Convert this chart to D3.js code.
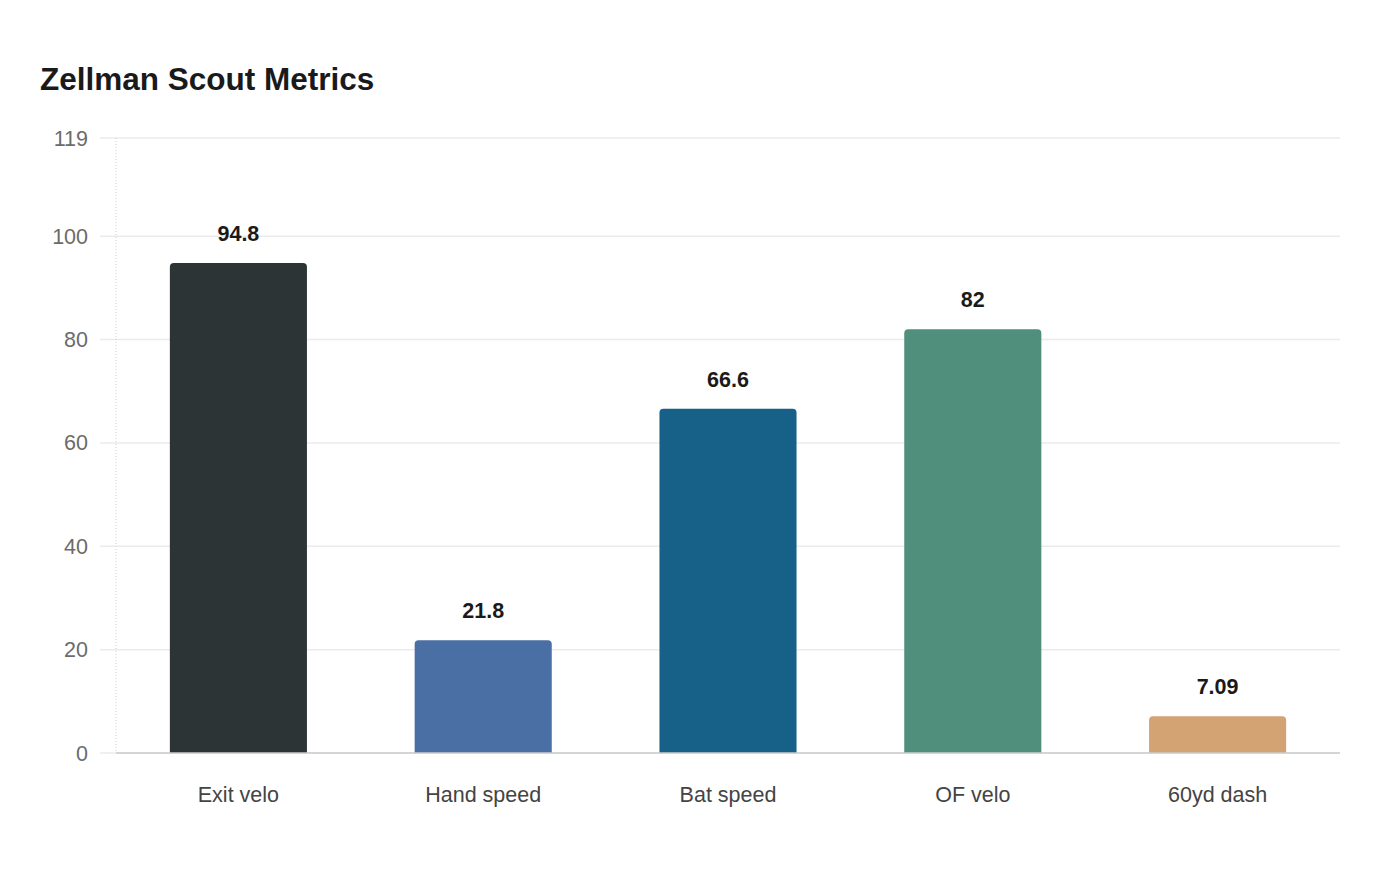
<!DOCTYPE html>
<html>
<head>
<meta charset="utf-8">
<script src="https://cdn.jsdelivr.net/npm/d3@7"></script>
<style>
  body { margin: 0; background: #fff; }
  svg { font-family: "Liberation Sans", Arial, sans-serif; }
</style>
</head>
<body>
<script>
const categories = ['Exit velo', 'Hand speed', 'Bat speed', 'OF velo', '60yd dash'];
const values = [94.8, 21.8, 66.6, 82, 7.09];
const labels = ['94.8', '21.8', '66.6', '82', '7.09'];
const colors = ['#2d3436', '#4a6fa5', '#176087', '#4f8f7c', '#d4a373'];
const yTicks = [0, 20, 40, 60, 80, 100, 119];

const width = 1400, height = 880;
const m = { top: 138, right: 60, bottom: 127, left: 116 };

const svg = d3.select('body').append('svg')
  .attr('width', width).attr('height', height);

svg.append('text')
  .attr('x', 40).attr('y', 90)
  .attr('font-size', 31.5).attr('font-weight', 'bold')
  .attr('fill', '#1a1a1a')
  .text('Zellman Scout Metrics');

const x = d3.scaleBand().domain(categories)
  .range([m.left, width - m.right]).padding(0);
const y = d3.scaleLinear().domain([0, 119])
  .range([height - m.bottom, m.top]);

// gridlines
svg.append('g').selectAll('line').data(yTicks).enter().append('line')
  .attr('x1', 100).attr('x2', width - m.right)
  .attr('y1', d => y(d)).attr('y2', d => y(d))
  .attr('stroke', '#ebebeb').attr('stroke-width', 1.5);

// y axis dotted line
svg.append('line')
  .attr('x1', m.left).attr('x2', m.left)
  .attr('y1', y(119)).attr('y2', y(0))
  .attr('stroke', '#ccc').attr('stroke-dasharray', '1,2');

// y tick labels
svg.append('g').selectAll('text').data(yTicks).enter().append('text')
  .attr('x', 88).attr('y', d => y(d))
  .attr('dy', '0.35em')
  .attr('text-anchor', 'end')
  .attr('font-size', 21.5).attr('fill', '#6b6b6b')
  .text(d => d);

const bw = x.bandwidth() * 0.56;
const r = 4;
function barPath(cx, top, bottom) {
  const x0 = cx - bw / 2, x1 = cx + bw / 2;
  return `M${x0},${bottom}L${x0},${top + r}Q${x0},${top} ${x0 + r},${top}` +
    `L${x1 - r},${top}Q${x1},${top} ${x1},${top + r}L${x1},${bottom}Z`;
}

svg.append('g').selectAll('path').data(categories).enter().append('path')
  .attr('d', (d, i) => barPath(x(d) + x.bandwidth() / 2, y(values[i]), y(0)))
  .attr('fill', (d, i) => colors[i]);

// baseline
svg.append('line')
  .attr('x1', m.left).attr('x2', width - m.right)
  .attr('y1', y(0)).attr('y2', y(0))
  .attr('stroke', '#ccc').attr('stroke-width', 1.5);

// value labels
svg.append('g').selectAll('text').data(categories).enter().append('text')
  .attr('x', d => x(d) + x.bandwidth() / 2)
  .attr('y', (d, i) => y(values[i]) - 22)
  .attr('text-anchor', 'middle')
  .attr('font-size', 21.5).attr('font-weight', 'bold')
  .attr('fill', '#1a1a1a')
  .text((d, i) => labels[i]);

// x labels
svg.append('g').selectAll('text').data(categories).enter().append('text')
  .attr('x', d => x(d) + x.bandwidth() / 2)
  .attr('y', 802)
  .attr('text-anchor', 'middle')
  .attr('font-size', 21.5).attr('fill', '#444')
  .text(d => d);
</script>
</body>
</html>
